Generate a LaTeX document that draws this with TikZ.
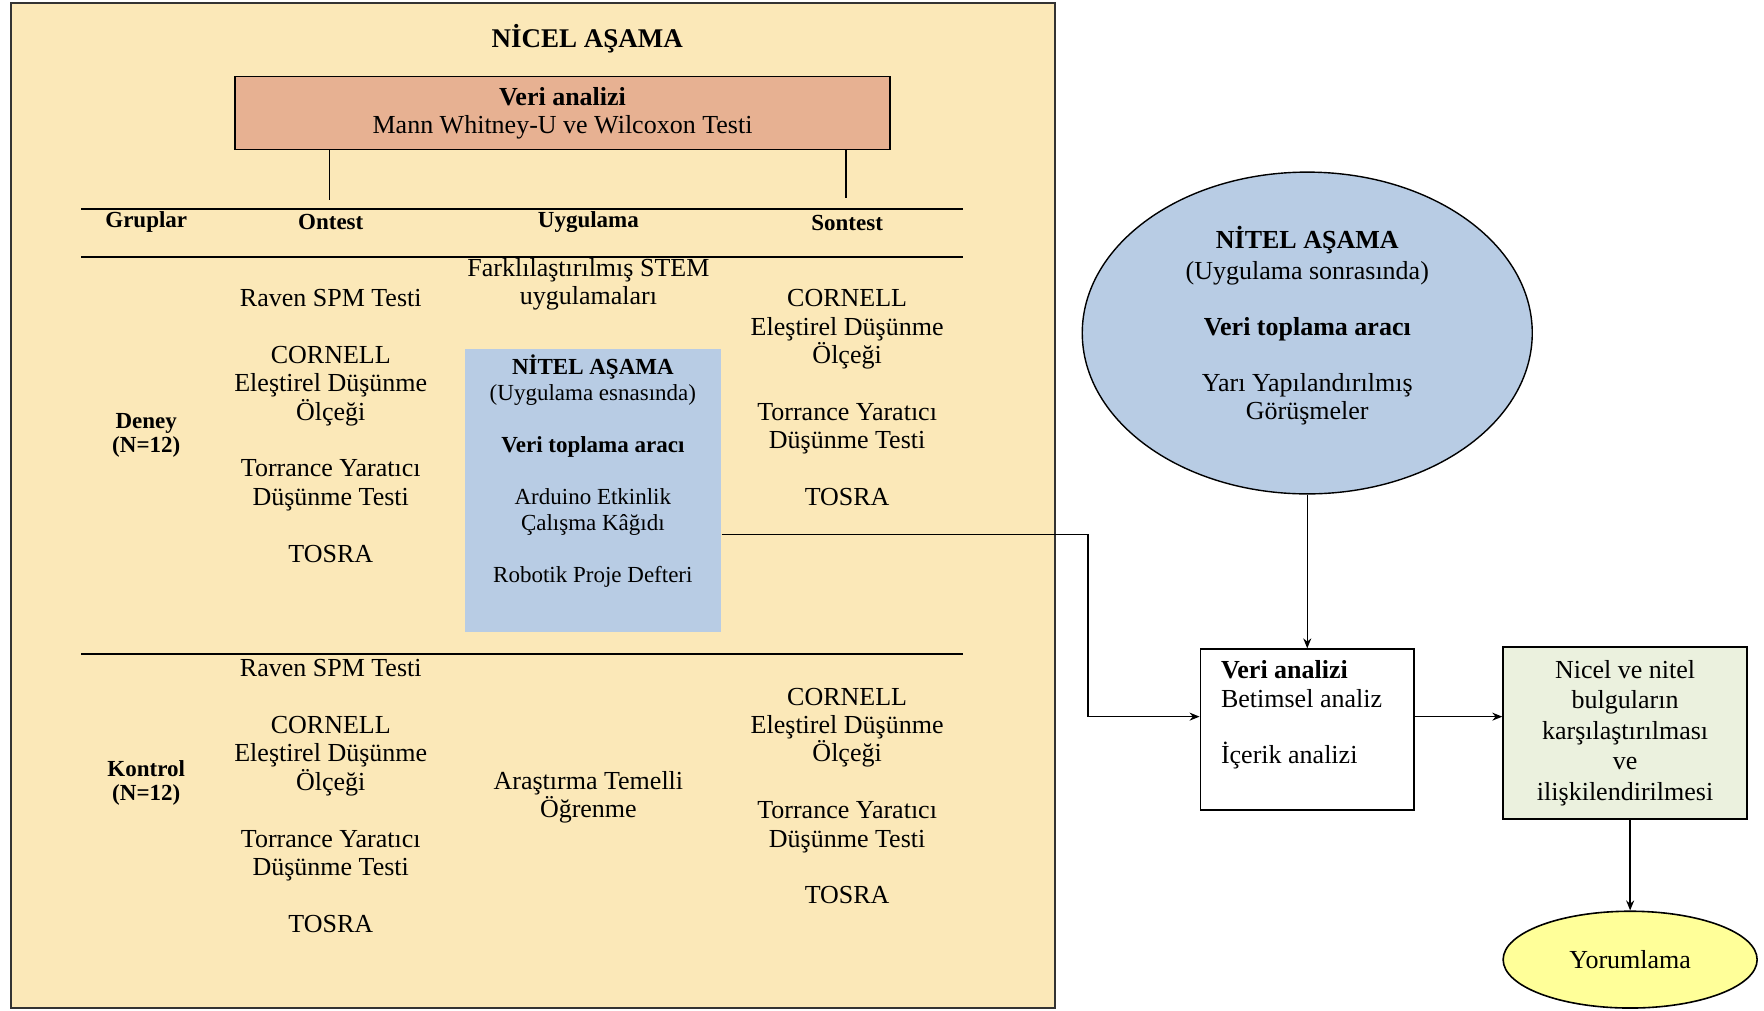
\documentclass[tikz,border=0pt]{standalone}
\usepackage{fontspec}
\setmainfont{Liberation Serif}
\usetikzlibrary{arrows.meta,shapes.geometric}

\definecolor{nicelbg}{HTML}{FBE8B8}
\definecolor{analizbg}{HTML}{E7B192}
\definecolor{nitelbg}{HTML}{B8CCE4}
\definecolor{bulgubg}{HTML}{EBF1DE}
\definecolor{yorumbg}{HTML}{FFFF99}

\tikzset{
  cell/.style={align=center,inner sep=0pt,font=\fontsize{13}{14.2}\selectfont},
  head/.style={align=center,inner sep=0pt,font=\fontsize{11.5}{12.4}\selectfont\bfseries},
  arr/.style={line width=0.7pt,-{Stealth[length=5pt,width=4pt]}}
}

\begin{document}
\begin{tikzpicture}[x=0.5625pt,y=-0.5625pt]

\useasboundingbox (0,0) rectangle (1568,898);

%nicel frame
\draw[line width=0.9pt,draw=black!80,fill=nicelbg] (10,3) rectangle (938,896);
\node[font=\fontsize{13.5}{15}\selectfont\bfseries] (nicel) at (522,34) {NİCEL AŞAMA};

\node[draw,line width=0.8pt,fill=analizbg,minimum width=327.4pt,minimum height=36.6pt,
  align=center,font=\fontsize{13}{14}\selectfont] (analiz1) at (500,100.5)
  {\textbf{Veri analizi}\\Mann Whitney-U ve Wilcoxon Testi};

%ticks to ontest and sontest
\coordinate (onend) at (293,178);
\coordinate (sonend) at (752,176);
\draw[line width=0.7pt] (analiz1.south -| onend) -- (onend);
\draw[line width=0.7pt] (analiz1.south -| sonend) -- (sonend);

%table rules
\foreach \y in {186,228,581}
  \draw[line width=1pt] (72,\y) -- (856,\y);

%headers
\node[head] (gruplar) at (130,197) {Gruplar};
\node[head] (ontest) at (294,197) {Ontest};
\node[head] (uygulama) at (523,197) {Uygulama};
\node[head] (sontest) at (753,198) {Sontest};

%deney row
\node[head] (deney) at (130,387) {Deney\\(N=12)};
\node[cell] (denon) at (294,378.5) {Raven SPM Testi\\[14.2pt]CORNELL\\Eleştirel Düşünme\\Ölçeği\\[14.2pt]Torrance Yaratıcı\\Düşünme Testi\\[14.2pt]TOSRA};
\node[cell] (denuyg) at (523,252.5) {Farklılaştırılmış STEM\\uygulamaları};
\node[cell] (denson) at (753,353.5) {CORNELL\\Eleştirel Düşünme\\Ölçeği\\[14.2pt]Torrance Yaratıcı\\Düşünme Testi\\[14.2pt]TOSRA};

\node[fill=nitelbg,minimum width=128.25pt,minimum height=141.75pt,inner sep=0pt] (nitel1) at (527,436) {};
\node[cell,font=\fontsize{11.5}{13}\selectfont] (nitel1txt) at (527,419) {\textbf{NİTEL AŞAMA}\\(Uygulama esnasında)\\[13pt]\textbf{Veri toplama aracı}\\[13pt]Arduino Etkinlik\\Çalışma Kâğıdı\\[13pt]Robotik Proje Defteri};

%kontrol row
\node[head] (kontrol) at (130,696) {Kontrol\\(N=12)};
\node[cell] (konon) at (294,707.5) {Raven SPM Testi\\[14.2pt]CORNELL\\Eleştirel Düşünme\\Ölçeği\\[14.2pt]Torrance Yaratıcı\\Düşünme Testi\\[14.2pt]TOSRA};
\node[cell] (konuyg) at (523,708.5) {Araştırma Temelli\\Öğrenme};
\node[cell] (konson) at (753,707.5) {CORNELL\\Eleştirel Düşünme\\Ölçeği\\[14.2pt]Torrance Yaratıcı\\Düşünme Testi\\[14.2pt]TOSRA};

%nitel after
\node[ellipse,draw,line width=0.7pt,fill=nitelbg,minimum width=225pt,minimum height=160.9pt] (nitel2) at (1162,296) {};
\node[cell,font=\fontsize{13}{14}\selectfont] (nitel2txt) at (1162,289.5) {\textbf{NİTEL AŞAMA}\\[1.7pt](Uygulama sonrasında)\\[14pt]\textbf{Veri toplama aracı}\\[14pt]Yarı Yapılandırılmış\\Görüşmeler};

\node[draw,line width=0.8pt,fill=white,minimum width=106.9pt,minimum height=80.4pt] (analiz2) at (1162,648.5) {};
\node[cell,align=left,anchor=west] (analiz2txt) at (1085,635.5) {\textbf{Veri analizi}\\Betimsel analiz\\[14pt]İçerik analizi};

\node[draw,line width=0.8pt,fill=bulgubg,minimum width=122pt,minimum height=86pt,inner sep=0pt,
  align=center,font=\fontsize{13}{15.2}\selectfont] (bulgu) at (1444.5,651.5)
  {Nicel ve nitel\\bulguların\\karşılaştırılması\\ve\\ilişkilendirilmesi};

\node[ellipse,draw,line width=0.8pt,fill=yorumbg,minimum width=127pt,minimum height=48.4pt,
  font=\fontsize{13}{14}\selectfont] (yorum) at (1449,853) {Yorumlama};

%connectors
\coordinate (kirilma) at (967,475);
\coordinate (seviye) at (967,637);
\draw[arr] (nitel1.east |- kirilma) -- (kirilma) -- (seviye) -- (analiz2.west |- seviye);
\draw[arr] (nitel2.south) -- (analiz2.north);
\draw[arr] (analiz2.east |- seviye) -- (bulgu.west |- seviye);
\draw[arr] (bulgu.south -| yorum.north) -- (yorum.north);

\end{tikzpicture}
\end{document}
